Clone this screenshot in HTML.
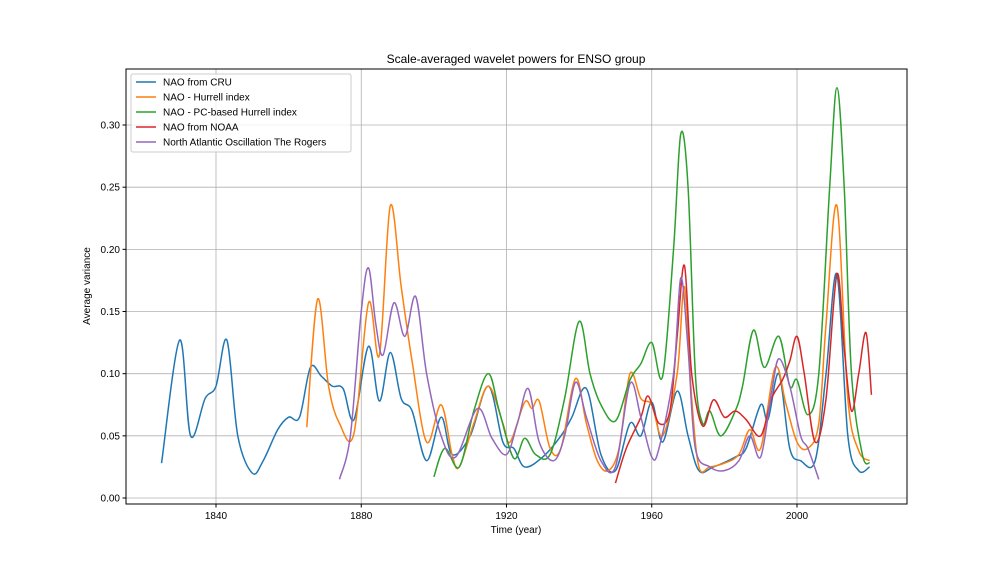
<!DOCTYPE html>
<html><head><meta charset="utf-8"><style>
body{margin:0;background:#fff;font-family:"Liberation Sans","DejaVu Sans",sans-serif;}
svg text{font-family:"Liberation Sans","DejaVu Sans",sans-serif;}
</style></head><body>
<svg id="chart" width="1008" height="576" xmlns="http://www.w3.org/2000/svg">
<rect x="0" y="0" width="1008" height="576" fill="#fff"/>
<g id="grid"></g>
<g id="series"></g>
<rect x="126" y="69" width="781" height="435" fill="none" stroke="#000" stroke-width="1"/>
<g id="ticks"></g>
<text x="516" y="63" text-anchor="middle" font-size="12">Scale-averaged wavelet powers for ENSO group</text>
<text x="516" y="533" text-anchor="middle" font-size="10">Time (year)</text>
<text x="90" y="286" text-anchor="middle" font-size="10" transform="rotate(-90 90 286)">Average variance</text>
<g id="legend"></g>
</svg>
<script>
const xTicks=[1840,1880,1920,1960,2000];
const yTicks=[0,0.05,0.10,0.15,0.20,0.25,0.30];
const yTickLabels=["0.00","0.05","0.10","0.15","0.20","0.25","0.30"];
const seriesNames=["NAO from CRU","NAO - Hurrell index","NAO - PC-based Hurrell index","NAO from NOAA","North Atlantic Oscillation The Rogers"];
const seriesColors=["#1f77b4","#ff7f0e","#2ca02c","#d62728","#9467bd"];
const cruYears=[1825,1830,1833,1837,1840,1843,1846,1850,1853,1857,1860,1863,1866,1869,1872,1875,1878,1882,1885,1888,1891,1894,1898,1902,1905,1910,1915,1919,1922,1925,1930,1935,1938,1942,1946,1950,1954,1957,1960,1963,1967,1970,1973,1977,1983,1986,1990,1992,1995,1998,2001,2005,2008,2011,2014,2017,2020];
const cruVals=[0.028,0.127,0.05,0.08,0.09,0.127,0.05,0.02,0.03,0.055,0.065,0.065,0.105,0.098,0.09,0.088,0.063,0.122,0.078,0.117,0.08,0.07,0.03,0.065,0.035,0.05,0.09,0.045,0.04,0.025,0.033,0.05,0.065,0.088,0.035,0.022,0.06,0.05,0.077,0.045,0.086,0.05,0.022,0.025,0.033,0.04,0.075,0.063,0.1,0.04,0.03,0.03,0.1,0.18,0.05,0.022,0.025];
const hurYears=[1865,1868,1871,1874,1878,1882,1885,1888,1891,1894,1898,1902,1905,1907,1911,1915,1919,1921,1925,1927,1929,1932,1935,1939,1942,1945,1948,1951,1954,1957,1960,1963,1967,1969,1971,1973,1976,1980,1984,1987,1990,1994,1997,2000,2003,2006,2008,2011,2014,2017,2020];
const hurVals=[0.057,0.16,0.09,0.06,0.052,0.157,0.115,0.235,0.17,0.11,0.045,0.075,0.035,0.025,0.06,0.09,0.06,0.045,0.077,0.072,0.078,0.04,0.04,0.096,0.06,0.03,0.022,0.04,0.1,0.08,0.075,0.05,0.1,0.17,0.08,0.025,0.025,0.028,0.035,0.055,0.04,0.105,0.075,0.045,0.04,0.06,0.14,0.235,0.08,0.038,0.03];
const pcYears=[1900,1903,1907,1911,1915,1918,1922,1925,1928,1932,1936,1940,1943,1946,1950,1954,1957,1960,1963,1966,1968,1970,1972,1974,1976,1979,1983,1985,1988,1991,1995,1998,2000,2003,2006,2009,2011,2013,2015,2018,2020];
const pcVals=[0.017,0.04,0.025,0.07,0.1,0.07,0.032,0.048,0.035,0.035,0.08,0.142,0.1,0.075,0.062,0.095,0.108,0.125,0.098,0.2,0.293,0.25,0.1,0.06,0.07,0.05,0.07,0.09,0.135,0.105,0.13,0.09,0.095,0.067,0.1,0.25,0.33,0.25,0.1,0.035,0.028];
const noaaYears=[1950,1953,1957,1959,1962,1965,1967,1969,1971,1974,1977,1980,1983,1986,1990,1993,1996,1998,2000,2002,2005,2008,2011,2013,2015,2017,2019,2020.5];
const noaaVals=[0.012,0.04,0.065,0.082,0.06,0.07,0.13,0.187,0.1,0.058,0.079,0.065,0.07,0.063,0.05,0.08,0.095,0.11,0.13,0.1,0.045,0.08,0.18,0.12,0.07,0.1,0.133,0.083];
const rogYears=[1874,1877,1880,1882,1884,1886,1889,1892,1895,1898,1902,1906,1912,1916,1920,1923,1926,1929,1933,1936,1939,1942,1946,1950,1954,1957,1960,1962,1966,1968,1970,1972,1976,1980,1984,1987,1990,1993,1995,1998,2001,2003,2006];
const rogVals=[0.015,0.05,0.15,0.185,0.14,0.115,0.157,0.13,0.162,0.1,0.05,0.033,0.072,0.048,0.035,0.06,0.088,0.045,0.03,0.05,0.093,0.065,0.03,0.025,0.092,0.065,0.033,0.04,0.1,0.177,0.12,0.04,0.025,0.022,0.03,0.05,0.033,0.085,0.112,0.09,0.05,0.04,0.015];

const L=126,R=907,T=69,B=504;
function xs(y){return 216+(y-1840)*(145.25/40);}
function ys(v){return 498-v*1243.3;}
const NS="http://www.w3.org/2000/svg";
function mk(tag,attrs,parent){const e=document.createElementNS(NS,tag);for(const k in attrs)e.setAttribute(k,attrs[k]);parent.appendChild(e);return e;}
const grid=document.getElementById('grid'),ticks=document.getElementById('ticks');
xTicks.forEach(t=>{const x=xs(t);
 const g=mk('line',{x1:x,x2:x,y1:T,y2:B,stroke:'#b0b0b0','stroke-width':0.8},grid);
 
 
 const tk=mk('line',{x1:x,x2:x,y1:B,y2:B+3.5,stroke:'#000'},ticks);
 
 
 const tx=mk('text',{x:x,y:B+15,'text-anchor':'middle','font-size':10},ticks);tx.textContent=t;
 
 
});
yTicks.forEach((t,i)=>{const y=ys(t);
 const g=mk('line',{x1:L,x2:R,y1:y,y2:y,stroke:'#b0b0b0','stroke-width':0.8},grid);
 
 
 const tk=mk('line',{x1:L-3.5,x2:L,y1:y,y2:y,stroke:'#000'},ticks);
 
 
 const tx=mk('text',{x:L-6,y:y+3.5,'text-anchor':'end','font-size':10},ticks);tx.textContent=yTickLabels[i];
 
 
});
function smooth(pts){let d='M'+pts[0][0]+','+pts[0][1];
 for(let i=0;i<pts.length-1;i++){const p0=pts[i-1]||pts[i],p1=pts[i],p2=pts[i+1],p3=pts[i+2]||p2;
  const c1=[p1[0]+(p2[0]-p0[0])/6,p1[1]+(p2[1]-p0[1])/6],c2=[p2[0]-(p3[0]-p1[0])/6,p2[1]-(p3[1]-p1[1])/6];
  d+=' C'+c1[0]+','+c1[1]+' '+c2[0]+','+c2[1]+' '+p2[0]+','+p2[1];}
 return d;}
const sdata=[[cruYears,cruVals],[hurYears,hurVals],[pcYears,pcVals],[noaaYears,noaaVals],[rogYears,rogVals]];
const sNames=['cru-line','hurrell-line','pc-hurrell-line','noaa-line','rogers-line'];
const sg=document.getElementById('series');
sdata.forEach((s,i)=>{const pts=s[0].map((y,j)=>[xs(y),ys(s[1][j])]);
 const p=mk('path',{d:smooth(pts),fill:'none',stroke:seriesColors[i],'stroke-width':1.5},sg);
 
 
});
const lg=document.getElementById('legend');
const box=mk('rect',{x:131,y:74,width:220,height:78,fill:'#fff','fill-opacity':0.8,stroke:'#ccc',rx:2},lg);


seriesNames.forEach((n,i)=>{const y=82+i*15;
 const l=mk('line',{x1:136,x2:156,y1:y,y2:y,stroke:seriesColors[i],'stroke-width':1.5},lg);
 
 
 const t=mk('text',{x:163,y:y+3.5,'font-size':10},lg);t.textContent=n;
 
 
});
</script>
</body></html>
